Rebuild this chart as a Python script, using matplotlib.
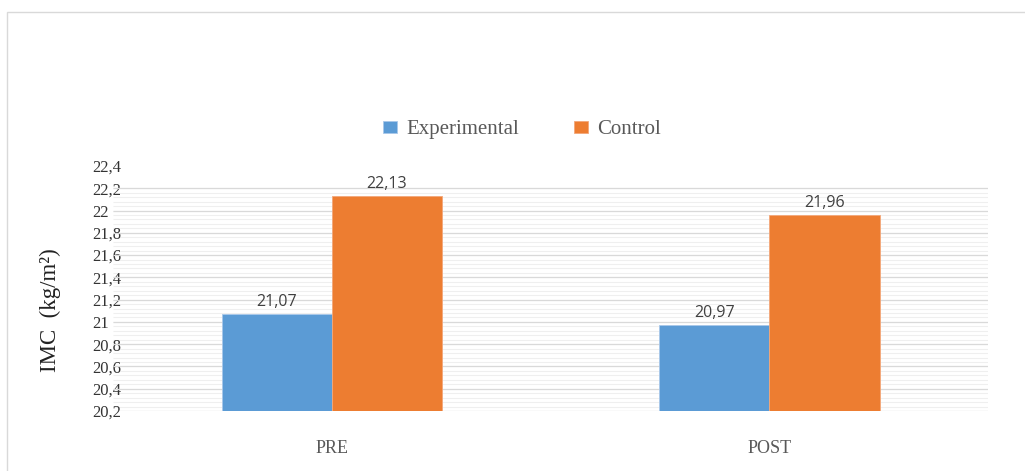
import numpy as np
import matplotlib.pyplot as plt
from matplotlib.patches import Rectangle

# IMC por grupo, antes y después
fases = ['PRE', 'POST']
experimental = [21.07, 20.97]
control = [22.13, 21.96]
y_ticks = [20.2, 20.4, 20.6, 20.8, 21.0, 21.2, 21.4, 21.6, 21.8, 22.0, 22.2, 22.4]

azul = '#5b9bd5'
naranja = '#ed7d31'
gris = '#595959'
serif = 'Liberation Serif'

fig = plt.figure(figsize=(10.25, 4.71), dpi=100)
ax = fig.add_axes([113 / 1025, 1 - 411 / 471, 875 / 1025, (411 - 166) / 471])

# marco del gráfico
fig.patches.append(Rectangle((7 / 1025, -0.1), 1.2, (471 - 12) / 471 + 0.1,
                             transform=fig.transFigure, fill=False,
                             edgecolor='#d9d9d9', linewidth=1.0, zorder=0))

x = np.arange(len(fases))
w = 0.252
b1 = ax.bar(x - w / 2, experimental, w, bottom=0, color=azul, edgecolor='#a9c8ea',
            linewidth=0.6, label='Experimental', zorder=3)
b2 = ax.bar(x + w / 2, control, w, bottom=0, color=naranja, edgecolor='#f3a77a',
            linewidth=0.6, label='Control', zorder=3)

for bars, vals in ((b1, experimental), (b2, control)):
    for r, v in zip(bars, vals):
        ax.annotate(f'{v:.2f}'.replace('.', ','), (r.get_x() + r.get_width() / 2, v),
                    xytext=(0, 3), textcoords='offset points', ha='center', va='bottom',
                    fontsize=11.5, color='#404040', family='Open Sans')

ax.set_xlim(-0.5, 1.5)
ax.set_ylim(20.2, 22.4)

# líneas de cuadrícula principales y secundarias
minor = np.arange(20.2, 22.2001, 0.04)
ax.hlines(minor, -0.5, 1.5, colors='#efefef', linewidth=0.8, zorder=1)
ax.hlines([t for t in y_ticks if t <= 22.2], -0.5, 1.5, colors='#d9d9d9', linewidth=0.9, zorder=2)

ax.set_yticks(y_ticks)
ax.set_yticklabels([f'{t:g}'.replace('.', ',') for t in y_ticks],
                   family=serif, fontsize=12, color='#333333', ha='left')
ax.tick_params(axis='y', length=0, pad=15)
ax.set_xticks(x)
ax.set_xticklabels(fases, family=serif, fontsize=13, color=gris)
ax.tick_params(axis='x', length=0, pad=21)
for s in ax.spines.values():
    s.set_visible(False)

fig.text(50 / 1025, 1 - 310 / 471, 'IMC  (kg/m²)', rotation=90, ha='center', va='center',
         family=serif, fontsize=16.5, color='#222222')

fig.legend(handles=[b1, b2], loc='center', bbox_to_anchor=(522 / 1025, 1 - 130 / 471),
           ncol=2, frameon=False, handlelength=0.7, handleheight=0.55, handletextpad=0.45,
           columnspacing=2.6, prop={'family': serif, 'size': 15}, labelcolor=gris)

fig.savefig('out.png', dpi=100)
